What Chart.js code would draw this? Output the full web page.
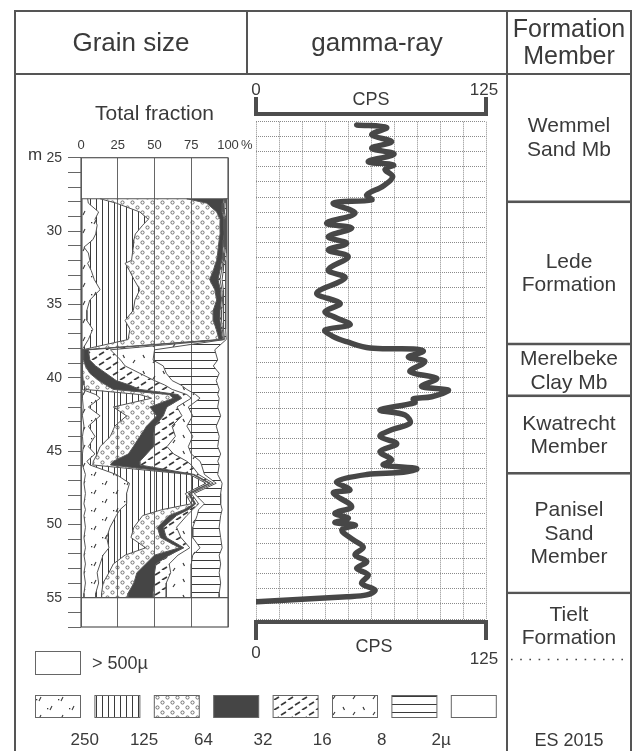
<!DOCTYPE html>
<html>
<head>
<meta charset="utf-8">
<script src="https://cdn.jsdelivr.net/npm/chart.js@4/dist/chart.umd.min.js"></script>
<style>
  body { margin: 0; background: #fff; }
  #page { position: relative; width: 635px; height: 751px; overflow: hidden;
          font-family: Arial, "Liberation Sans", sans-serif; color: #3a3a3a; }
  canvas { position: absolute; left: 0; top: 0; }
  .ln { position: absolute; background: #555; }
  .hd { position: absolute; text-align: center; font-size: 26px; line-height: 30px; }
</style>
</head>
<body>
<div id="page">
  <canvas id="grain" width="635" height="751"></canvas>
  <canvas id="gamma" width="635" height="751"></canvas>
  <canvas id="form" width="635" height="751"></canvas>

  <div class="ln" style="left:14px;top:10px;width:618px;height:2px"></div>
  <div class="ln" style="left:14px;top:10px;width:2px;height:741px"></div>
  <div class="ln" style="left:630px;top:10px;width:2px;height:741px"></div>
  <div class="ln" style="left:14px;top:73px;width:618px;height:2px"></div>
  <div class="ln" style="left:246px;top:10px;width:2px;height:64px"></div>
  <div class="ln" style="left:506px;top:10px;width:2px;height:741px"></div>

  <div class="hd" style="left:16px;width:230px;top:27px">Grain size</div>
  <div class="hd" style="left:248px;width:258px;top:27px">gamma-ray</div>
  <div class="hd" style="left:508px;width:122px;top:15px;line-height:27px;font-size:25px">Formation<br>Member</div>
  <div style="position:absolute;left:508px;width:122px;top:730px;text-align:center;font-size:18px">ES 2015</div>
</div>

<script>
Chart.defaults.font.family = 'Arial, "Liberation Sans", sans-serif';
Chart.defaults.color = '#3a3a3a';

// ---- grain size: cumulative % (coarser than each limit) per depth (m)
const grainDepth = [27.8, 28.1, 28.7, 29.2, 29.6, 30.2, 30.6, 31.1, 31.5, 32.0, 32.2, 32.7, 33.3, 34.0, 34.7, 35.4, 36.1, 36.7, 37.4,
  38.1, 38.8, 39.2, 39.7, 40.2, 40.5, 40.8,
  41.15, 41.4, 42.0, 42.6, 43.3, 44.0, 44.7, 45.2, 45.7, 45.95,
  46.6, 47.2, 47.9, 48.6, 49.0, 49.4, 50.2, 50.9, 51.6, 52.1, 52.7, 53.3, 54.0, 54.7, 55.0];
const cum500 = [0.5, 0.5, 0.5, 0.5, 0.5, 0.5, 0.5, 0.5, 0.5, 0.5, 0.5, 0.5, 0.5, 0.5, 0.5, 0.5, 0.5, 0.5, 0.5,
  0.5, 0.5, 0.5, 0.5, 0.5, 0.5, 0.5,
  1, 1, 1.5, 1, 2, 1, 1.5, 1, 1, 1,
  3, 2, 3, 2, 3, 2, 3, 2, 3, 2, 3, 2, 3, 2, 2];
const cum250 = [4.5, 5, 12, 9.5, 11, 10, 8, 2, 5, 6, 4.5, 7, 9, 13, 6, 4, 4, 8, 5,
  0.8, 0.8, 0.8, 0.8, 0.8, 0.8, 1,
  10, 13, 5, 13, 5, 9.5, 5, 9.5, 4, 6,
  24, 33, 31, 31, 26.5, 24, 19.7, 17.5, 19, 15, 13, 11, 12, 10, 10];
const cum125 = [13, 24, 40, 45.8, 42, 37, 36, 35.6, 35, 34.4, 30, 33, 36, 40, 36.7, 35.6, 30, 33.3, 32,
  0.9, 0.9, 1, 1.2, 1.5, 2, 3,
  40, 48, 22, 31, 23, 20, 13, 11, 8.4, 8,
  74, 85, 71, 75, 55, 42, 36, 34, 44, 30, 22, 19, 15, 14, 14];
const cum64 = [72, 85.5, 92.3, 94.6, 94.5, 94.6, 94, 93.4, 93, 92.3, 91.5, 90, 87.5, 91, 92.3, 90, 90, 92, 94,
  1.5, 1.8, 3, 6, 12, 17, 22,
  60, 62.8, 46.9, 51.5, 44.7, 40.1, 35.6, 32.2, 22, 20,
  76, 87, 73, 77, 70, 60, 52, 54, 67, 50, 44, 38, 36, 32, 32];
const cum32 = [97, 96.5, 96, 97.2, 97.2, 97.3, 97, 96.6, 96.3, 95.8, 95.3, 94.5, 93.2, 94.8, 95.5, 94.6, 94.5, 95.3, 96.2,
  5, 6, 10, 17, 24, 33, 40,
  66, 68.5, 58.3, 56, 50.3, 49.2, 49.2, 44.7, 40.1, 40,
  77, 88, 74, 78, 73, 65, 56, 58, 70, 60, 51, 50, 50, 49, 49];
const cum16 = [97.7, 97.2, 96.8, 97.8, 97.8, 97.9, 97.6, 97.3, 97, 96.6, 96.2, 95.6, 94.6, 95.8, 96.3, 95.7, 95.6, 96.2, 96.9,
  20, 27, 30, 40, 50, 57, 62,
  72, 75, 65.3, 68.7, 61.9, 64.2, 58.5, 63, 72, 75,
  80, 90, 75, 80, 76, 72, 65, 68, 74, 66, 60, 61, 58, 58, 58];
const cum8 = [98.4, 98, 97.6, 98.4, 98.4, 98.5, 98.3, 98, 97.8, 97.5, 97.2, 96.8, 96, 96.8, 97.2, 96.8, 96.7, 97.2, 97.6,
  50, 49, 56, 58, 62, 68, 72,
  78, 81, 73, 76, 72, 76, 73, 75, 81, 82,
  84, 92, 77, 84, 80, 79, 76, 76, 81, 76, 75, 75, 75, 75, 75];
const cum2 = [99, 99, 98.8, 99, 99, 99, 99, 98.8, 98.8, 98.6, 98.5, 98.4, 98.2, 98.4, 98.5, 98.4, 98.4, 98.5, 98.8,
  91, 93, 90, 94, 92, 93, 94,
  93, 94, 93, 95, 92, 94, 93, 95, 93, 94,
  93, 96, 95, 95, 96, 95, 94, 95, 96, 94, 95, 94, 95, 94, 94];
const fractionLimits = ['250', '125', '64', '32', '16', '8', '2µ'];
const coarseLabel = '> 500µ';
const pctTicks = [0, 25, 50, 75, 100];

// ---- gamma-ray log
const gammaDepth = [22.77, 22.95, 23.45, 23.91, 24.36, 24.75, 25.27, 25.5, 25.8, 26.3, 26.93, 27.54, 27.88, 28.1, 28.79,
  29.47, 29.8, 30.39, 30.84, 31.3, 31.75, 32.66, 33.2, 34.24, 34.93, 35.5, 35.88, 36.4, 36.75, 37.2, 37.55,
  37.98, 38.04, 38.2, 38.6, 38.9, 39.59, 40.04, 40.6, 40.84, 41.3, 41.45, 41.7, 42.2, 42.54, 43.1, 43.55,
  44.0, 44.5, 45.04, 45.6, 45.95, 46.2, 46.45, 46.6, 47.09, 47.65, 47.86, 48.79, 49.24, 49.58, 49.88, 50.05,
  50.38, 51.06, 51.56, 52.08, 52.54, 52.99, 53.45, 54.02, 54.47, 54.81, 54.93, 55.27];
const gammaCps = [54.7, 71.0, 62.9, 73.7, 62.9, 75.0, 61.0, 74.7, 70.1, 74.3, 69.2, 60.2, 62.9, 42.0, 53.8,
  38.4, 52.0, 39.3, 49.3, 39.3, 50.1, 39.3, 48.4, 33.0, 45.7, 37.5, 42.9, 51.1, 37.5, 42.0, 49.3,
  62.0, 85.5, 90.9, 82.8, 91.8, 83.7, 98.2, 90.0, 104.5, 95.5, 85.5, 86.4, 67.4, 81.0, 83.7, 73.7,
  67.4, 76.5, 67.4, 73.7, 69.2, 87.3, 80.1, 60.2, 43.9, 51.1, 42.0, 52.0, 42.9, 50.2, 42.9, 54.0,
  46.6, 52.9, 58.3, 53.8, 60.2, 54.7, 61.0, 57.4, 64.7, 60.2, 49.3, 0.4];
const cpsMin = 0, cpsMax = 125;

// ---- formations (base depth, m)
const formNames = [['Wemmel', 'Sand Mb'], ['Lede', 'Formation'], ['Merelbeke', 'Clay Mb'],
  ['Kwatrecht', 'Member'], ['Panisel', 'Sand', 'Member'], ['Tielt', 'Formation']];
const formBase = [28.07, 37.77, 41.3, 46.58, 54.74, 59.2];

// ---- fill patterns
function makePattern(w, h, draw) {
  const c = document.createElement('canvas');
  c.width = w; c.height = h;
  const g = c.getContext('2d');
  g.strokeStyle = '#3a3a3a'; g.fillStyle = '#3a3a3a'; g.lineWidth = 1;
  draw(g);
  return g.createPattern(c, 'repeat');
}
const seg = (g, pts) => { g.beginPath(); for (let i = 0; i < pts.length; i += 4) { g.moveTo(pts[i], pts[i + 1]); g.lineTo(pts[i + 2], pts[i + 3]); } g.stroke(); };
const pat250 = makePattern(22, 18, g => { g.lineWidth = 1.1; seg(g, [6, 8, 8, 4, 17, 17, 19, 13]); g.fillRect(3, 6, 1.3, 1.3); g.fillRect(14, 15, 1.3, 1.3); });
const patVert = makePattern(6, 6, g => seg(g, [0.5, 0, 0.5, 6]));
const patDots = makePattern(10, 10, g => {
  g.strokeStyle = '#555'; g.lineWidth = 0.8;
  [[2.5, 2.5], [7.5, 7.5]].forEach(([x, y]) => { g.beginPath(); g.arc(x, y, 1.6, 0, Math.PI * 2); g.stroke(); });
});
const darkFill = '#454545';
const patDiag = makePattern(14, 10, g => { g.lineWidth = 1.7; seg(g, [1, 5, 6, 2, 8, 10, 13, 7]); });
const patScatter = makePattern(20, 16, g => { g.lineWidth = 1.2; seg(g, [3, 3, 4.5, 6, 13, 11, 15, 8]); });
const patHoriz = makePattern(8, 8, g => seg(g, [0, 0.5, 8, 0.5]));

const bounds = [cum500, cum250, cum125, cum64, cum32, cum16, cum8, cum2];
const fills = [null, pat250, patVert, patDots, darkFill, patDiag, patScatter, patHoriz];

const grainDecor = {
  id: 'grainDecor',
  afterDraw(chart) {
    const { ctx, chartArea: a, scales: { x, y } } = chart;
    ctx.save();
    ctx.strokeStyle = '#555'; ctx.lineWidth = 1.2;
    ctx.strokeRect(a.left, a.top, a.right - a.left, a.bottom - a.top);
    [grainDepth[0], grainDepth[grainDepth.length - 1]].forEach(d => {
      const py = y.getPixelForValue(d);
      ctx.beginPath(); ctx.moveTo(a.left, py); ctx.lineTo(a.right, py); ctx.stroke();
    });
    ctx.fillStyle = '#3a3a3a';
    ctx.textBaseline = 'middle';
    ctx.font = '13px Arial, "Liberation Sans", sans-serif';
    ctx.textAlign = 'left';
    ctx.fillText('%', x.getPixelForValue(100) + 13, 145.5);
    ctx.font = '17px Arial, "Liberation Sans", sans-serif';
    ctx.textAlign = 'center';
    ctx.fillText('m', 35, 155);
    ctx.font = '21px Arial, "Liberation Sans", sans-serif';
    ctx.fillText('Total fraction', (a.left + a.right) / 2, 114);

    // legend
    ctx.lineWidth = 1; ctx.strokeStyle = '#666';
    ctx.strokeRect(35.5, 651.5, 45, 23);
    ctx.font = '18px Arial, "Liberation Sans", sans-serif';
    ctx.textAlign = 'left';
    ctx.fillText(coarseLabel, 92, 664);
    const step = 59.4, w = 45;
    for (let k = 0; k < 8; k++) {
      const bx = 35.5 + k * step;
      const f = fills[k + 1];
      if (f) { ctx.fillStyle = f; ctx.fillRect(bx, 695.5, w, 22); }
      ctx.strokeRect(bx, 695.5, w, 22);
    }
    ctx.fillStyle = '#3a3a3a';
    ctx.font = '17px Arial, "Liberation Sans", sans-serif';
    ctx.textAlign = 'center';
    fractionLimits.forEach((t, k) => ctx.fillText(t, 35.5 + w + (step - w) / 2 - 3 + k * step, 740));
    ctx.restore();
  }
};

new Chart(document.getElementById('grain'), {
  type: 'line',
  data: {
    datasets: bounds.map((arr, i) => ({
      data: arr.map((v, k) => ({ x: v, y: grainDepth[k] })),
      borderColor: '#555',
      borderWidth: 1,
      backgroundColor: fills[i] || 'rgba(0,0,0,0)',
      fill: i === 0 ? false : '-1',
      pointRadius: 0,
      tension: 0
    }))
  },
  options: {
    indexAxis: 'y', responsive: false, animation: false, devicePixelRatio: 1,
    layout: { padding: { left: 41, right: 407, top: 132.7, bottom: 124 } },
    plugins: { legend: { display: false }, tooltip: { enabled: false }, filler: { drawTime: 'beforeDatasetsDraw' } },
    scales: {
      x: {
        type: 'linear', position: 'top', min: 0, max: 100,
        afterBuildTicks: s => { s.ticks = pctTicks.map(v => ({ value: v })); },
        ticks: { padding: 4, font: { size: 13 } },
        grid: { color: '#666', lineWidth: 1, drawTicks: false },
        border: { display: false },
        afterFit: s => { s.height = 25; }
      },
      y: {
        type: 'linear', reverse: true, min: 25, max: 57,
        ticks: { stepSize: 1, autoSkip: false, padding: 6, font: { size: 14 }, callback: v => (v % 5 === 0 ? v : '') },
        grid: { drawOnChartArea: false, tickLength: 13, color: '#666' },
        border: { display: false },
        afterFit: s => { s.width = 40; }
      }
    }
  },
  plugins: [grainDecor]
});

const cpsFrame = {
  id: 'cpsFrame',
  afterDraw(chart) {
    const { ctx, scales: { x } } = chart;
    const x0 = x.getPixelForValue(cpsMin), x1 = x.getPixelForValue(cpsMax);
    ctx.save();
    ctx.strokeStyle = '#4d4d4d'; ctx.lineWidth = 4; ctx.lineJoin = 'miter';
    ctx.beginPath(); ctx.moveTo(x0, 97); ctx.lineTo(x0, 114); ctx.lineTo(x1, 114); ctx.lineTo(x1, 97); ctx.stroke();
    ctx.beginPath(); ctx.moveTo(x0, 640); ctx.lineTo(x0, 622); ctx.lineTo(x1, 622); ctx.lineTo(x1, 640); ctx.stroke();
    ctx.fillStyle = '#3a3a3a'; ctx.textAlign = 'center'; ctx.textBaseline = 'middle';
    ctx.font = '17px Arial, "Liberation Sans", sans-serif';
    ctx.fillText(String(cpsMin), x0, 90);
    ctx.fillText(String(cpsMax), x1 - 2, 90);
    ctx.fillText(String(cpsMin), x0, 653);
    ctx.fillText(String(cpsMax), x1 - 2, 659);
    ctx.font = '18px Arial, "Liberation Sans", sans-serif';
    ctx.fillText('CPS', (x0 + x1) / 2, 100);
    ctx.fillText('CPS', (x0 + x1) / 2 + 3, 647);
    ctx.restore();
  }
};

new Chart(document.getElementById('gamma'), {
  type: 'line',
  data: {
    datasets: [{
      data: gammaCps.map((v, i) => ({ x: v, y: gammaDepth[i] })),
      borderColor: '#474747', borderWidth: 5.5, pointRadius: 0, tension: 0.35, fill: false,
      borderCapStyle: 'round', borderJoinStyle: 'round'
    }]
  },
  options: {
    indexAxis: 'y', responsive: false, animation: false, devicePixelRatio: 1,
    layout: { padding: { left: 256, right: 149, top: 121.7, bottom: 132 } },
    plugins: { legend: { display: false }, tooltip: { enabled: false } },
    scales: {
      x: {
        type: 'linear', min: cpsMin, max: cpsMax,
        ticks: { display: false, stepSize: 12.5 },
        grid: { drawTicks: false, color: '#8a8a8a', lineWidth: 1, borderDash: [1, 1] },
        border: { display: false, dash: [1, 1] },
        afterFit: s => { s.height = 0; }
      },
      y: {
        type: 'linear', reverse: true, min: 22.55, max: 56.45,
        ticks: { display: false },
        afterBuildTicks: s => { s.ticks = Array.from({ length: 34 }, (_, k) => ({ value: s.min + k * (s.max - s.min) / 33 })); },
        grid: { drawTicks: false, color: '#8a8a8a', lineWidth: 1, borderDash: [1, 1] },
        border: { display: false, dash: [1, 1] },
        afterFit: s => { s.width = 0; }
      }
    }
  },
  plugins: [cpsFrame]
});

const formLabels = {
  id: 'formLabels',
  afterDraw(chart) {
    const { ctx, chartArea: a, scales: { y } } = chart;
    ctx.save();
    ctx.fillStyle = '#3a3a3a'; ctx.textAlign = 'center'; ctx.textBaseline = 'middle';
    ctx.font = '21px Arial, "Liberation Sans", sans-serif';
    chart.data.datasets.forEach((ds, i) => {
      const el = chart.getDatasetMeta(i).data[0];
      const lines = formNames[i];
      const cy = (el.y + el.base) / 2;
      lines.forEach((t, j) => ctx.fillText(t, el.x, cy + (j - (lines.length - 1) / 2) * 23.5));
    });
    const py = y.getPixelForValue(formBase[formBase.length - 1]);
    ctx.strokeStyle = '#444'; ctx.lineWidth = 1.6; ctx.setLineDash([1.6, 7.6]);
    ctx.beginPath(); ctx.moveTo(a.left + 3, py); ctx.lineTo(a.right, py); ctx.stroke();
    ctx.restore();
  }
};

new Chart(document.getElementById('form'), {
  type: 'bar',
  data: {
    labels: [''],
    datasets: formNames.map((n, i) => ({
      label: n.join(' '),
      data: [[i === 0 ? 19.29 : formBase[i - 1], formBase[i]]],
      backgroundColor: 'rgba(0,0,0,0)',
      borderColor: '#555',
      borderSkipped: false,
      borderWidth: { top: 0, left: 0, right: 0, bottom: i === formNames.length - 1 ? 0 : 2 },
      barPercentage: 1, categoryPercentage: 1, grouped: false
    }))
  },
  options: {
    responsive: false, animation: false, devicePixelRatio: 1,
    layout: { padding: { left: 508, right: 5, top: 74, bottom: 0 } },
    plugins: { legend: { display: false }, tooltip: { enabled: false } },
    scales: {
      x: { display: false },
      y: { display: false, reverse: true, min: 19.29, max: 65.44 }
    }
  },
  plugins: [formLabels]
});
</script>
</body>
</html>
